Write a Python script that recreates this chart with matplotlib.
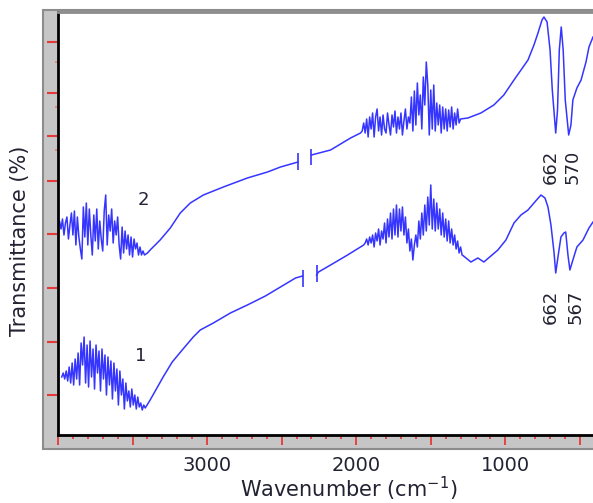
import numpy as np
import matplotlib
matplotlib.use('Agg')
import matplotlib.pyplot as plt
from matplotlib.patches import Rectangle
from matplotlib.ticker import MultipleLocator, FixedLocator, FuncFormatter

# spectrum 2 (upper), wavenumber in cm-1, transmittance in arbitrary units; nan = cut
wn2 = [4000, 3990, 3980, 3970, 3960, 3950, 3940, 3930, 3920, 3910, 3900, 3890, 3880, 3870, 3860,
       3850, 3840, 3830, 3820, 3810, 3800, 3790, 3780, 3770, 3760, 3750, 3740, 3730, 3720, 3710,
       3700, 3690, 3680, 3670, 3660, 3650, 3640, 3630, 3620, 3610, 3600, 3590, 3580, 3570, 3560,
       3550, 3540, 3530, 3520, 3510, 3500, 3490, 3480, 3470, 3460, 3450, 3440, 3430, 3420,
       3400, 3382, 3315, 3247, 3180, 3113, 3025, 2891, 2730, 2595, 2508, 2390,
       2345,
       2300, 2172, 2038, 1971,
       1960, 1950, 1940, 1930, 1920, 1910, 1900, 1890, 1880, 1870, 1860, 1850, 1840, 1830, 1820,
       1810, 1800, 1790, 1780, 1770, 1760, 1750, 1740, 1730, 1720, 1710, 1700, 1690, 1680, 1670,
       1660, 1650, 1640, 1630, 1620, 1610, 1600, 1590, 1580, 1570, 1560, 1550, 1540, 1530, 1520,
       1510, 1500, 1490, 1480, 1470, 1460, 1450, 1440, 1430, 1420, 1410, 1400, 1390, 1380, 1370,
       1360, 1350, 1340, 1330, 1320, 1310, 1300,
       1251, 1164, 1077, 1010, 942, 895, 848, 808, 781, 754, 741, 720, 700, 685, 662, 650, 638,
       625, 612, 598, 575, 560, 547, 520, 492, 459, 439, 412]
t2 = [211, 214, 206, 216, 200, 212, 218, 196, 210, 222, 200, 224, 190, 218, 198,
      186, 176, 228, 198, 232, 190, 226, 200, 180, 220, 194, 226, 186, 214, 196,
      184, 224, 240, 190, 220, 204, 226, 192, 214, 200, 218, 190, 176, 208, 182,
      204, 186, 200, 180, 198, 178, 196, 186, 192, 180, 188, 180, 184, 180,
      182, 185, 195, 207, 222, 232, 240, 248, 257, 263, 268, 273,
      np.nan,
      280, 285, 297, 302,
      304, 312, 302, 316, 298, 318, 306, 322, 298, 318, 326, 304, 318, 300, 320,
      306, 302, 322, 310, 300, 320, 308, 324, 302, 318, 306, 322, 300, 314, 326,
      306, 318, 312, 338, 304, 344, 310, 352, 320, 340, 306, 358, 330, 373, 350,
      300, 345, 306, 350, 304, 332, 310, 330, 302, 328, 306, 326, 304, 325, 308,
      328, 306, 322, 310, 326, 312, 316,
      317, 322, 330, 340, 355, 365, 375, 390, 402, 415, 418, 413, 385, 345, 302, 325, 385,
      408, 385, 335, 300, 310, 335, 347, 355, 373, 388, 398]

# spectrum 1 (lower)
wn1 = [3975, 3965, 3955, 3945, 3935, 3925, 3915, 3905, 3895, 3885, 3875, 3865, 3855, 3845, 3835,
       3825, 3815, 3805, 3795, 3785, 3775, 3765, 3755, 3745, 3735, 3725, 3715, 3705, 3695, 3685,
       3675, 3665, 3655, 3645, 3635, 3625, 3615, 3605, 3595, 3585, 3575, 3565, 3555, 3545, 3535,
       3525, 3515, 3505, 3495, 3485, 3475, 3465, 3455, 3445, 3435, 3425, 3415,
       3382, 3295, 3234, 3167, 3093, 3046, 2958, 2844, 2730, 2609, 2508, 2407, 2360,
       2310,
       2266, 2253, 2172, 2058, 1950,
       1940, 1930, 1920, 1910, 1900, 1890, 1880, 1870, 1860, 1850, 1840, 1830, 1820, 1810, 1800,
       1790, 1780, 1770, 1760, 1750, 1740, 1730, 1720, 1710, 1700, 1690, 1680, 1670, 1660, 1650,
       1640, 1630, 1620, 1610, 1600, 1590, 1580, 1570, 1560, 1550, 1540, 1530, 1520, 1510, 1500,
       1490, 1480, 1470, 1460, 1450, 1440, 1430, 1420, 1410, 1400, 1390, 1380, 1370, 1360, 1350,
       1340, 1330, 1320, 1310, 1300, 1290, 1280,
       1231, 1184, 1144, 1097, 1050, 996, 942, 895, 848, 808, 761, 734, 714, 694, 673, 662,
       645, 627, 607, 595, 580, 567, 547, 520, 479, 439, 412]
t1 = [58, 62, 56, 64, 54, 68, 52, 72, 50, 76, 56, 82, 50, 92, 70,
      98, 52, 90, 48, 94, 58, 86, 46, 90, 62, 84, 44, 86, 56, 80,
      40, 78, 50, 74, 36, 72, 44, 66, 30, 64, 40, 56, 26, 52, 34,
      44, 28, 46, 30, 40, 26, 38, 28, 32, 25, 30, 27,
      35, 58, 73, 85, 98, 105, 112, 122, 130, 139, 148, 157, 159,
      np.nan,
      160, 163, 170, 180, 190,
      192, 196, 190, 198, 192, 200, 188, 202, 194, 206, 190, 204, 196, 212, 192,
      216, 198, 222, 196, 226, 200, 230, 198, 226, 204, 228, 200, 218, 192, 206,
      184, 196, 175, 190, 200, 188, 214, 196, 222, 200, 230, 204, 238, 210, 250,
      206, 236, 204, 232, 206, 226, 200, 222, 198, 216, 194, 214, 192, 206, 190,
      200, 186, 194, 182, 188, 180, 179,
      173, 177, 173, 179, 185, 195, 212, 220, 225, 232, 240, 237, 228, 210, 182, 162,
      180, 198, 202, 203, 180, 165, 175, 188, 195, 207, 213]

# little bars where the spectra were cut (wavenumber, low, high)
cuts2 = [(2390, 265, 282), (2300, 270, 286)]
cuts1 = [(2360, 148, 165), (2266, 153, 170)]

peaks2 = ['662', '570']
peaks1 = ['662', '567']

ytick_major = [393, 342, 299, 254, 201, 147, 93, 40]
ytick_minor = [373, 328, 285]

blue = '#3535ff'
red = '#e53a3a'
txt = '#222233'

fig = plt.figure(figsize=(5.93, 5.03), dpi=100)
# grey frame band behind the axes
band = Rectangle((43/593, 54/503), 1.0, 439/503, transform=fig.transFigure,
                 facecolor='#c6c6c6', edgecolor='#8c8c8c', lw=1.5, zorder=-10)
fig.patches.append(band)
ax = fig.add_axes([58/593, 68/503, 1 - 58/593, 423/503])
ax.set_facecolor('white')

ax.plot(wn2, t2, color=blue, lw=1.1)
ax.plot(wn1, t1, color=blue, lw=1.1)
for x, lo, hi in cuts2 + cuts1:
    ax.vlines(x, lo, hi, color=blue, lw=1.2)

ax.set_xlim(4000, 412)
ax.set_ylim(0, 423)

ax.text(3430, 235, '2', fontsize=13, color=txt, ha='center', va='center')
ax.text(3445, 79, '1', fontsize=13, color=txt, ha='center', va='center')
ax.text(694, 268, peaks2[0], fontsize=13, color=txt, rotation=90, ha='center', va='center')
ax.text(546, 268, peaks2[1], fontsize=13, color=txt, rotation=90, ha='center', va='center')
ax.text(694, 128, peaks1[0], fontsize=13, color=txt, rotation=90, ha='center', va='center')
ax.text(526, 128, peaks1[1], fontsize=13, color=txt, rotation=90, ha='center', va='center')

# frame
ax.spines['left'].set_color('black')
ax.spines['left'].set_linewidth(2)
ax.spines['bottom'].set_color('black')
ax.spines['bottom'].set_linewidth(2)
ax.spines['top'].set_color('#8c8c8c')
ax.spines['top'].set_linewidth(2)
ax.spines['right'].set_visible(False)

ax.xaxis.set_major_locator(MultipleLocator(500))
ax.xaxis.set_minor_locator(MultipleLocator(100))
ax.xaxis.set_major_formatter(FuncFormatter(lambda v, p: '%d' % v if v in (1000, 2000, 3000) else ''))
ax.tick_params(axis='x', which='major', direction='out', length=7, width=1.3, color=red,
               labelsize=14, labelcolor=txt, pad=8)
ax.tick_params(axis='x', which='minor', direction='out', length=3, width=1.2, color=red)

ax.yaxis.set_major_locator(FixedLocator(ytick_major))
ax.yaxis.set_minor_locator(FixedLocator(ytick_minor))
ax.tick_params(axis='y', which='major', direction='out', length=8, width=1.5, color=red, labelleft=False)
ax.tick_params(axis='y', which='minor', direction='out', length=2, width=1.2, color='#e08080')

fig.text(20/593, 1 - 241/503, 'Transmittance (%)', rotation=90, fontsize=15, color=txt,
         ha='center', va='center')
fig.text(349/593, 1 - 489/503, 'Wavenumber (cm$^{\\mathregular{-1}}$)', fontsize=15, color=txt,
         ha='center', va='center')

fig.savefig('out.png', dpi=100)
